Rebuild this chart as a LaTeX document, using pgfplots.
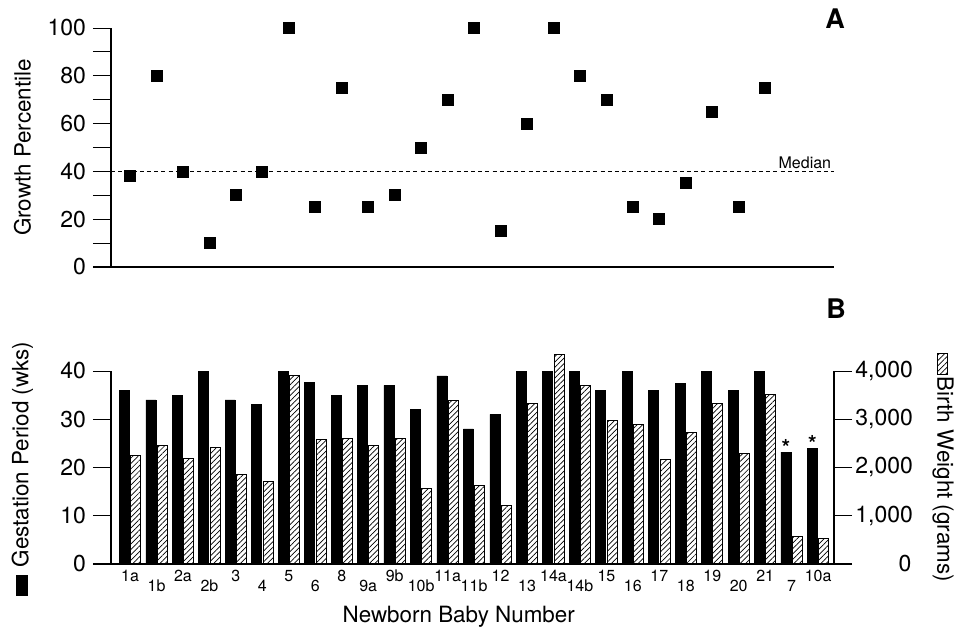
\documentclass[border=0pt]{standalone}
\usepackage{fontspec}
\setmainfont{TeX Gyre Heros}
\usepackage{pgfplots}
\pgfplotsset{compat=1.18}
\usepackage{pgfplotstable}
\usetikzlibrary{patterns.meta}

% x = position of the baby on the axis, gest in weeks, wt in grams, pct = growth percentile
\pgfplotstableread{
x gest wt pct
0 36 2240 38
1 34 2450 80
2 35 2190 40
3 40 2420 10
4 34 1860 30
5 33 1720 40
6 40 3910 100
7 37.6 2590 25
8 35 2610 75
9 37 2460 25
10 37 2600 30
11 32 1570 50
12 39 3380 70
13 28 1630 100
14 31 1220 15
15 40 3320 60
16 40 4350 100
17 40 3690 80
18 36 2980 70
19 40 2900 25
20 36 2160 20
21 37.4 2720 35
22 40 3330 65
23 36 2280 25
24 40 3520 75
25 23.2 580 nan
26 24 520 nan
}\babydata

\newcommand{\labfont}{\fontsize{11.2}{13}\selectfont}

\pgfplotsset{
  panel/.style={
    scale only axis, width=361.5pt,
    xmin=-0.72, xmax=26.6,
    axis x line*=bottom, axis y line*=left,
    axis line style={line width=0.8pt},
    tick align=outside,
    major tick length=9pt, minor tick length=9pt,
    tick style={black, line width=0.5pt},
    ticklabel style={font=\fontsize{11.5}{13}\selectfont},
    /pgf/number format/assume math mode=true,
    clip=false,
  },
}

\begin{document}
\begin{tikzpicture}
\useasboundingbox (0,0) rectangle (483pt,-316pt);

% A: growth percentile
\begin{axis}[panel,
    at={(55.5pt,-133.5pt)}, anchor=south west, height=119.5pt,
    ymin=0, ymax=100,
    ytick={0,20,...,100}, minor ytick={10,30,...,90},
    xtick=\empty,
    x axis line style={shorten <=-9pt},
    every axis y label/.style={at={(rel axis cs:0,0.5)}, xshift=-44.25pt, rotate=90, anchor=center, font=\labfont},
    ylabel={Growth Percentile},
  ]
  \addplot[black, line width=0.5pt, dash pattern=on 2pt off 1.6pt] coordinates {(-0.72,40) (26.6,40)}
    node[pos=1, anchor=south east, inner sep=1.2pt, font=\fontsize{8}{9}\selectfont] {Median};
  \addplot[only marks, mark=square*, mark size=2.75pt, black] table[x=x, y=pct] {\babydata};
  \node[font=\bfseries\fontsize{13.5}{15}\selectfont] at (rel axis cs:1,1) [xshift=0.5pt, yshift=4.5pt] {A};
\end{axis}

% B: gestation period
\begin{axis}[panel,
    at={(55.5pt,-282pt)}, anchor=south west, height=96.5pt,
    ymin=0, ymax=40,
    ytick={0,10,...,40},
    x axis line style={shorten <=-9pt, shorten >=-9pt},
    xtick={0,2,...,26},
    xticklabels={1a,2a,3,5,8,9b,11a,12,14a,15,17,19,21,10a},
    extra x ticks={1,3,...,25},
    extra x tick labels={1b,2b,4,6,9a,10b,11b,13,14b,16,18,20,7},
    x tick style={draw=none},
    xticklabel style={font=\fontsize{8}{9}\selectfont, anchor=center, yshift=3pt},
    extra x tick style={xticklabel style={yshift=-5pt}},
    every axis y label/.style={at={(rel axis cs:0,0.5)}, xshift=-44.25pt, yshift=-0.75pt, rotate=90, anchor=center, font=\labfont},
    ylabel={\rule{10.5pt}{6pt}\hspace{4pt}Gestation Period (wks)},
    every axis x label/.style={at={(rel axis cs:0.481,0)}, yshift=-26.5pt, anchor=center, font=\labfont},
    xlabel={Newborn Baby Number},
  ]
  \addplot[ybar, bar width=5pt, bar shift=-2.85pt, fill=black, draw=black, line width=0.3pt]
    table[x=x, y=gest] {\babydata};
  \addplot[draw=none, nodes near coords={\bfseries *},
    nodes near coords style={anchor=south, inner sep=0pt, xshift=-2.85pt, yshift=-2pt, font=\fontsize{11}{13}\selectfont}]
    coordinates {(25,23.2) (26,24)};
  \node[font=\bfseries\fontsize{13.5}{15}\selectfont] at (rel axis cs:1,1) [xshift=1pt, yshift=31pt] {B};
\end{axis}

% B: birth weight, right axis
\begin{axis}[panel,
    at={(55.5pt,-282pt)}, anchor=south west, height=96.5pt,
    ymin=0, ymax=4000,
    axis x line=none, axis y line*=right,
    xtick=\empty,
    ytick={0,1000,...,4000},
    yticklabels={0,{1,000},{2,000},{3,000},{4,000}},
    yticklabel style={text width=28pt, align=right, inner sep=1.5pt},
    every axis y label/.style={at={(rel axis cs:1,0.5)}, xshift=54.5pt, rotate=-90, anchor=center, font=\labfont},
    ylabel={\tikz\draw[line width=0.4pt, pattern={Lines[angle=45, distance=1.9pt, line width=0.35pt]}] (0,0) rectangle (10.5pt,5pt);\hspace{1pt}Birth Weight (grams)},
  ]
  \addplot[ybar, bar width=5pt, bar shift=2.85pt, draw=black, line width=0.5pt,
    pattern={Lines[angle=45, distance=1.9pt, line width=0.35pt]}]
    table[x=x, y=wt] {\babydata};
\end{axis}
\end{tikzpicture}
\end{document}
